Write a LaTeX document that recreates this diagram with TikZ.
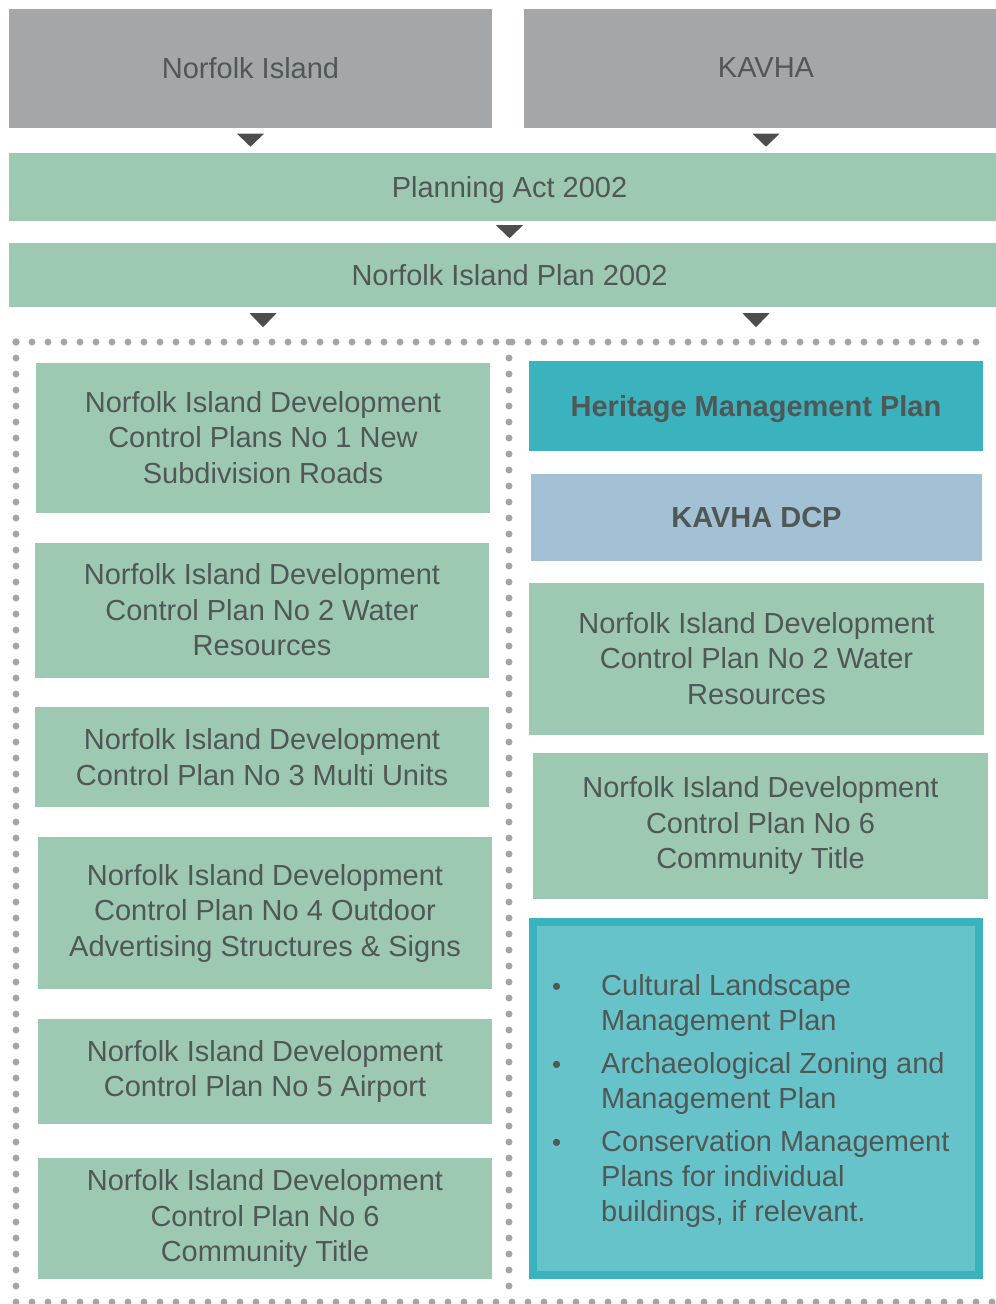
\documentclass[tikz,border=0pt]{standalone}
\usepackage{fontspec}
\setmainfont{Liberation Sans}
\usetikzlibrary{calc}
\definecolor{greybox}{RGB}{164,167,170}
\definecolor{greenbox}{RGB}{157,201,179}
\definecolor{tealbox}{RGB}{58,179,190}
\definecolor{bluebox}{RGB}{162,193,213}
\definecolor{lightteal}{RGB}{103,195,202}
\definecolor{dotgrey}{RGB}{165,165,165}
\definecolor{arrowgrey}{RGB}{77,77,77}
\definecolor{txtgrey}{RGB}{80,88,86}
\begin{document}
\begin{tikzpicture}[x=1pt,y=-1pt,
  bx/.style={rectangle, inner sep=0pt, align=center, text=txtgrey,
    font=\fontsize{29}{35.5}\selectfont},
  greyb/.style={bx, fill=greybox},
  greenb/.style={bx, fill=greenbox},
  oneline/.style={text depth=0pt},
  tealb/.style={bx, fill=tealbox, font=\fontsize{29}{35.5}\selectfont\bfseries},
  blueb/.style={bx, fill=bluebox, font=\fontsize{29}{35.5}\selectfont\bfseries},
  listb/.style={bx, fill=lightteal, draw=tealbox, line width=8pt},
  dotline/.style={draw=dotgrey, line width=7pt, line cap=round, dash pattern=on 0pt off 16pt},
  tri/.style={fill=arrowgrey}
]
\clip (0,0) rectangle (996,1304);
\fill[white] (0,0) rectangle (996,1304);

% top row
\node[greyb, oneline, minimum width=483, minimum height=119] (ni) at (250.5,68) {Norfolk Island};
\node[greyb, oneline, minimum width=484, minimum height=119] (kav) at (766,68) {KAVHA};
\node[greenb, oneline, minimum width=1001, minimum height=68] (pa) at (509.5,187) {Planning Act 2002};
\node[greenb, oneline, minimum width=1001, minimum height=64] (nip) at (509.5,275) {Norfolk Island Plan 2002};

% dotted frame
\draw[dotline] (16,342) -- (987,342);
\draw[dotline] (16,342) -- (16,1302);
\draw[dotline] (509,342) -- (509,1302);
\draw[dotline] (16,1302) -- (996,1302);

% left column
\node[greenb, minimum width=454, minimum height=150] (l1) at (263,437.5)
  {Norfolk Island Development\\Control Plans No 1 New\\Subdivision Roads};
\node[greenb, minimum width=454, minimum height=135] (l2) at (262,610)
  {Norfolk Island Development\\Control Plan No 2 Water\\Resources};
\node[greenb, minimum width=454, minimum height=100] (l3) at (262,757)
  {Norfolk Island Development\\Control Plan No 3 Multi Units};
\node[greenb, minimum width=454, minimum height=152] (l4) at (265,913)
  {Norfolk Island Development\\Control Plan No 4 Outdoor\\Advertising Structures \& Signs};
\node[greenb, minimum width=454, minimum height=105] (l5) at (265,1071.5)
  {Norfolk Island Development\\Control Plan No 5 Airport};
\node[greenb, minimum width=454, minimum height=121] (l6) at (265,1218.5)
  {Norfolk Island Development\\Control Plan No 6\\Community Title};

% right column
\node[tealb, oneline, minimum width=454, minimum height=90] (r1) at (756,406) {Heritage Management Plan};
\node[blueb, oneline, minimum width=451, minimum height=87] (r2) at (756.5,517) {KAVHA DCP};
\node[greenb, minimum width=455, minimum height=152] (r3) at (756.5,658.5)
  {Norfolk Island Development\\Control Plan No 2 Water\\Resources};
\node[greenb, minimum width=455, minimum height=146] (r4) at (760.5,825.5)
  {Norfolk Island Development\\Control Plan No 6\\Community Title};
\node[listb, minimum width=446, minimum height=353] (r5) at (756,1098.5) {};
\node[bx, align=left, anchor=west, font=\fontsize{29}{35}\selectfont] (blist) at (552,1101) {%
\begin{tabular}{@{}p{49pt}@{}l@{}}
{\fontsize{26}{26}\selectfont\textbullet} & Cultural Landscape\\
 & Management Plan\\[8pt]
{\fontsize{26}{26}\selectfont\textbullet} & Archaeological Zoning and\\
 & Management Plan\\[8pt]
{\fontsize{26}{26}\selectfont\textbullet} & Conservation Management\\
 & Plans for individual\\
 & buildings, if relevant.
\end{tabular}};

% arrow heads
\fill[tri] ($(ni.south)+(-13.5,6)$) -- ++(27,0) -- ++(-13.5,13) -- cycle;
\fill[tri] ($(kav.south)+(-13.5,6)$) -- ++(27,0) -- ++(-13.5,13) -- cycle;
\fill[tri] ($(pa.south)+(-13.5,4)$) -- ++(27,0) -- ++(-13.5,13) -- cycle;
\fill[tri] ($(nip.south -| l1.north)+(-13.5,6)$) -- ++(27,0) -- ++(-13.5,14) -- cycle;
\fill[tri] ($(nip.south -| r1.north)+(-13.5,6)$) -- ++(27,0) -- ++(-13.5,14) -- cycle;
\end{tikzpicture}
\end{document}
